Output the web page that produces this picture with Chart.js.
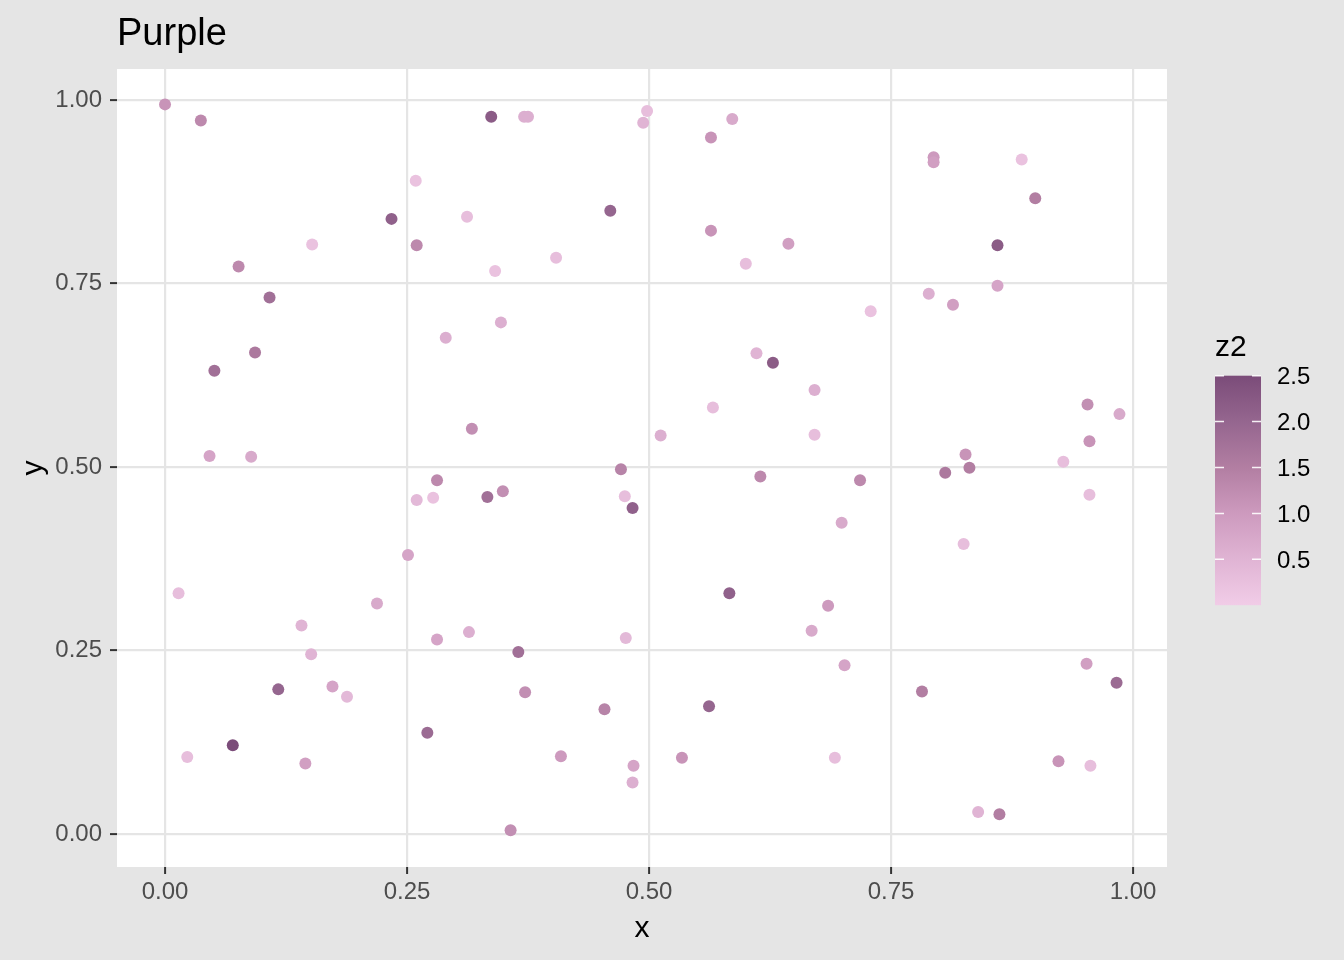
<!DOCTYPE html>
<html>
<head>
<meta charset="utf-8">
<script src="https://cdn.jsdelivr.net/npm/chart.js@4"></script>
<style>
  html, body { margin: 0; padding: 0; background: #E5E5E5; }
  canvas { display: block; }
</style>
</head>
<body>
<canvas id="myChart" width="1344" height="960"></canvas>
<script>
// Daten
const xWerte = [0.000, 0.037, 0.259, 0.234, 0.312, 0.152, 0.260, 0.076, 0.108, 0.290,
  0.093, 0.051, 0.317, 0.046, 0.089, 0.337, 0.371, 0.375, 0.498, 0.494,
  0.586, 0.564, 0.460, 0.564, 0.644, 0.600, 0.404, 0.341, 0.347, 0.611,
  0.628, 0.671, 0.566, 0.671, 0.512, 0.794, 0.794, 0.885, 0.899, 0.860,
  0.860, 0.789, 0.814, 0.729, 0.953, 0.986, 0.955, 0.827, 0.928, 0.806,
  0.831, 0.718, 0.955, 0.699, 0.825, 0.685, 0.668, 0.702, 0.952, 0.983,
  0.782, 0.692, 0.923, 0.956, 0.840, 0.862, 0.471, 0.615, 0.333, 0.349,
  0.475, 0.483, 0.583, 0.314, 0.476, 0.365, 0.372, 0.454, 0.562, 0.409,
  0.534, 0.484, 0.483, 0.357, 0.281, 0.260, 0.277, 0.251, 0.014, 0.219,
  0.141, 0.281, 0.151, 0.117, 0.173, 0.188, 0.271, 0.070, 0.023, 0.145];
const yWerte = [0.994, 0.972, 0.890, 0.838, 0.841, 0.803, 0.802, 0.773, 0.731, 0.676,
  0.656, 0.631, 0.552, 0.515, 0.514, 0.977, 0.977, 0.977, 0.985, 0.969,
  0.974, 0.949, 0.849, 0.822, 0.804, 0.777, 0.785, 0.767, 0.697, 0.655,
  0.642, 0.605, 0.581, 0.544, 0.543, 0.922, 0.915, 0.919, 0.866, 0.802,
  0.747, 0.736, 0.721, 0.712, 0.585, 0.572, 0.535, 0.517, 0.507, 0.492,
  0.499, 0.482, 0.462, 0.424, 0.395, 0.311, 0.277, 0.230, 0.232, 0.206,
  0.194, 0.104, 0.099, 0.093, 0.030, 0.027, 0.497, 0.487, 0.459, 0.467,
  0.460, 0.444, 0.328, 0.275, 0.267, 0.248, 0.193, 0.170, 0.174, 0.106,
  0.104, 0.093, 0.070, 0.005, 0.482, 0.455, 0.458, 0.380, 0.328, 0.314,
  0.284, 0.265, 0.245, 0.197, 0.201, 0.187, 0.138, 0.121, 0.105, 0.096];
const z2 = [1.1, 1.3, 0.2, 2.1, 0.3, 0.2, 1.3, 1.3, 1.8, 0.6,
  1.6, 1.8, 1.2, 0.8, 0.7, 2.2, 0.6, 0.6, 0.3, 0.5,
  0.7, 1.1, 2.0, 1.1, 0.9, 0.3, 0.3, 0.2, 0.6, 0.5,
  2.2, 0.6, 0.3, 0.3, 0.6, 1.0, 0.9, 0.2, 1.5, 2.2,
  0.8, 0.6, 0.9, 0.2, 1.2, 0.7, 1.1, 1.1, 0.3, 1.6,
  1.5, 1.3, 0.3, 0.7, 0.3, 1.0, 0.7, 0.8, 0.9, 1.9,
  1.5, 0.3, 1.1, 0.3, 0.5, 1.5, 1.4, 1.3, 1.8, 1.2,
  0.3, 2.1, 2.1, 0.6, 0.4, 1.8, 1.2, 1.4, 2.0, 1.0,
  1.1, 0.8, 0.6, 1.2, 1.3, 0.4, 0.2, 0.8, 0.3, 0.7,
  0.5, 0.8, 0.5, 2.0, 0.8, 0.4, 1.9, 2.5, 0.3, 0.9];

const tickWerte = [0, 0.25, 0.5, 0.75, 1];
const tickLabels = ['0.00', '0.25', '0.50', '0.75', '1.00'];
const legendWerte = [0.5, 1.0, 1.5, 2.0, 2.5];
const legendLabels = ['0.5', '1.0', '1.5', '2.0', '2.5'];

// Farbverlauf z2 (hell -> dunkel)
const farbStops = [
  [0.0, [241, 204, 231]],
  [0.5, [224, 180, 212]],
  [1.0, [205, 154, 190]],
  [1.5, [178, 126, 162]],
  [2.0, [149, 102, 143]],
  [2.5, [123, 76, 121]]
];
const zMax = 2.5;

function farbe(z) {
  for (let i = 1; i < farbStops.length; i++) {
    if (z <= farbStops[i][0] || i === farbStops.length - 1) {
      const [z0, c0] = farbStops[i - 1];
      const [z1, c1] = farbStops[i];
      let t = (z - z0) / (z1 - z0);
      t = Math.max(0, Math.min(1, t));
      const c = c0.map((v, k) => Math.round(v + (c1[k] - v) * t));
      return 'rgb(' + c.join(',') + ')';
    }
  }
}

const schrift = 'Liberation Sans, Arial, Helvetica, sans-serif';

// Hintergrund, Titel und Farblegende
const extras = {
  id: 'extras',
  beforeDraw(chart) {
    const { ctx, chartArea: a } = chart;
    ctx.save();
    ctx.fillStyle = '#E5E5E5';
    ctx.fillRect(0, 0, chart.width, chart.height);
    ctx.fillStyle = '#FFFFFF';
    ctx.fillRect(a.left, a.top, a.right - a.left, a.bottom - a.top);
    ctx.restore();
  },
  afterDraw(chart) {
    const ctx = chart.ctx;
    ctx.save();
    ctx.fillStyle = '#000000';
    ctx.font = '38px ' + schrift;
    ctx.textAlign = 'left';
    ctx.textBaseline = 'alphabetic';
    ctx.fillText('Purple', 117, 45);

    // Farbbalken
    const bx = 1215, bw = 46, bTop = 375.7, bBottom = 605.2;
    const zuY = z => bBottom - (z / zMax) * (bBottom - bTop);
    const grad = ctx.createLinearGradient(0, bBottom, 0, bTop);
    farbStops.forEach(([z, c]) => grad.addColorStop(z / zMax, 'rgb(' + c.join(',') + ')'));
    ctx.fillStyle = grad;
    ctx.fillRect(bx, bTop, bw, bBottom - bTop);

    ctx.strokeStyle = 'rgba(255,255,255,0.9)';
    ctx.lineWidth = 1.5;
    legendWerte.forEach(v => {
      const y = zuY(v);
      ctx.beginPath();
      ctx.moveTo(bx, y); ctx.lineTo(bx + 9, y);
      ctx.moveTo(bx + bw - 9, y); ctx.lineTo(bx + bw, y);
      ctx.stroke();
    });

    ctx.fillStyle = '#000000';
    ctx.font = '24px ' + schrift;
    ctx.textBaseline = 'middle';
    legendWerte.forEach((v, i) => ctx.fillText(legendLabels[i], 1277, zuY(v) + 2));

    ctx.font = '30px ' + schrift;
    ctx.textBaseline = 'alphabetic';
    ctx.fillText('z2', 1215, 356);
    ctx.restore();
  }
};

const punkte = xWerte.map((x, i) => ({ x: x, y: yWerte[i] }));

const achse = (min, max, fitFn, titel, titelPad) => ({
  type: 'linear',
  min: min,
  max: max,
  afterBuildTicks: s => { s.ticks = tickWerte.map(v => ({ value: v })); },
  afterFit: fitFn,
  grid: { color: '#E5E5E5', lineWidth: 2.2, tickColor: '#333333', tickLength: 7, tickWidth: 2 },
  border: { display: false },
  ticks: {
    autoSkip: false,
    maxRotation: 0,
    font: { family: schrift, size: 24 },
    color: '#4D4D4D',
    padding: titel === 'x' ? 4 : 8,
    callback: (v, i) => tickLabels[i]
  },
  title: {
    display: true,
    text: titel,
    color: '#000000',
    font: { family: schrift, size: 30 },
    padding: titelPad
  }
});

const config = {
  type: 'scatter',
  data: {
    datasets: [{
      label: 'z2',
      data: punkte,
      pointBackgroundColor: z2.map(farbe),
      pointBorderWidth: 0,
      pointRadius: 6,
      pointHoverRadius: 6
    }]
  },
  options: {
    responsive: false,
    animation: false,
    devicePixelRatio: 1,
    layout: { padding: { left: 0, right: 177, top: 69, bottom: 0 } },
    plugins: { legend: { display: false }, tooltip: { enabled: false } },
    scales: {
      x: achse(-0.0496, 1.0351, s => { s.height = 93; }, 'x', { top: 0, bottom: 13 }),
      y: achse(-0.045, 1.0422, s => { s.width = 117; }, 'y', { top: 16, bottom: 0 })
    }
  },
  plugins: [extras]
};

const ctx = document.querySelector('#myChart').getContext('2d');
new Chart(ctx, config);
</script>
</body>
</html>
